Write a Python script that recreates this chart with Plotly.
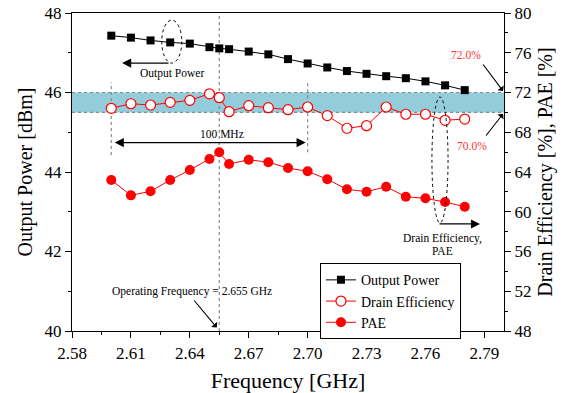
import plotly.graph_objects as go

# Measured performance versus frequency
freq_ghz = [2.60, 2.61, 2.62, 2.63, 2.64, 2.65, 2.655, 2.66, 2.67, 2.68,
            2.69, 2.70, 2.71, 2.72, 2.73, 2.74, 2.75, 2.76, 2.77, 2.78]
output_power_dbm = [47.43, 47.38, 47.31, 47.26, 47.23, 47.14, 47.11, 47.09, 47.03, 46.96,
                    46.84, 46.73, 46.63, 46.54, 46.47, 46.41, 46.36, 46.28, 46.18, 46.06]
drain_eff_pct = [70.41, 70.87, 70.74, 71.01, 71.21, 71.87, 71.48, 70.07, 70.67, 70.47,
                 70.27, 70.54, 69.67, 68.40, 68.66, 70.54, 69.81, 69.81, 69.20, 69.33]
pae_pct = [63.19, 61.65, 62.06, 63.19, 64.20, 65.31, 65.98, 64.80, 65.24, 64.98,
           64.40, 64.07, 63.27, 62.26, 62.02, 62.52, 61.51, 61.35, 60.98, 60.51]

x_ticks = [2.58, 2.61, 2.64, 2.67, 2.70, 2.73, 2.76, 2.79]
band_low, band_high = 70.0, 72.0
op_freq = 2.655

FONT = "Liberation Serif, Times New Roman, serif"
GREY = "#8a8a8a"
NOTE_SIZE = 11.5

fig = go.Figure()

fig.add_trace(go.Scatter(
    x=freq_ghz, y=output_power_dbm, name="Output Power", mode="lines+markers",
    line=dict(color="black", width=1),
    marker=dict(symbol="square", size=8, color="black"),
    yaxis="y"))
fig.add_trace(go.Scatter(
    x=freq_ghz, y=drain_eff_pct, name="Drain Efficiency", mode="lines+markers",
    line=dict(color="#ff0000", width=1),
    marker=dict(symbol="circle", size=10, color="white", line=dict(color="#ff0000", width=1.2)),
    yaxis="y2"))
fig.add_trace(go.Scatter(
    x=freq_ghz, y=pae_pct, name="PAE", mode="lines+markers",
    line=dict(color="#ff0000", width=1),
    marker=dict(symbol="circle", size=10, color="#ff0000"),
    yaxis="y2"))

shapes = [
    # 70-72 % efficiency band
    dict(type="rect", xref="paper", yref="y2", x0=0, x1=1, y0=band_low, y1=band_high,
         fillcolor="#93cddc", line=dict(width=0), layer="below"),
    dict(type="line", xref="paper", yref="y2", x0=0, x1=1, y0=band_high, y1=band_high,
         line=dict(color=GREY, width=1.2, dash="dot"), layer="below"),
    dict(type="line", xref="paper", yref="y2", x0=0, x1=1, y0=band_low, y1=band_low,
         line=dict(color=GREY, width=1.2, dash="dot"), layer="below"),
    # operating frequency marker
    dict(type="line", xref="x", yref="paper", x0=op_freq, x1=op_freq, y0=0, y1=1,
         line=dict(color=GREY, width=1.2, dash="dot"), layer="below"),
    # 100 MHz span guides
    dict(type="line", xref="x", yref="y", x0=2.60, x1=2.60, y0=44.43, y1=46.26,
         line=dict(color=GREY, width=1.2, dash="dot"), layer="below"),
    dict(type="line", xref="x", yref="y", x0=2.70, x1=2.70, y0=44.50, y1=46.26,
         line=dict(color=GREY, width=1.2, dash="dot"), layer="below"),
    # ellipses grouping the curves
    dict(type="circle", xref="x", yref="y", x0=2.6257, x1=2.6359, y0=46.74, y1=47.82,
         line=dict(color="black", width=1, dash="dot")),
    dict(type="circle", xref="x", yref="y2", x0=2.7633, x1=2.7715, y0=58.87, y1=71.55,
         line=dict(color="black", width=1, dash="dot")),
]


def arrow(x, y, ax, ay, yref="y", head=2, size=1.4, width=1.3, **kw):
    return dict(x=x, y=y, ax=ax, ay=ay, xref="x", yref=yref, axref="x", ayref=yref,
                text="", showarrow=True, arrowhead=head, arrowsize=size, arrowwidth=width,
                arrowcolor="black", **kw)


def label(x, y, text, yref="y", color="black"):
    return dict(x=x, y=y, xref="x", yref=yref, text=text, showarrow=False,
                font=dict(family=FONT, size=NOTE_SIZE, color=color))


annotations = [
    arrow(2.6055, 46.74, 2.6299, 46.74),
    label(2.6309, 46.47, "Output Power"),
    arrow(2.699, 44.74, 2.601, 44.74, arrowside="end+start"),
    label(2.6564, 44.95, "100 MHz"),
    arrow(2.7878, 58.77, 2.7664, 58.77, yref="y2"),
    label(2.7689, 57.35, "Drain Efficiency,", yref="y2"),
    label(2.7689, 56.1, "PAE", yref="y2"),
    arrow(2.7995, 72.15, 2.7888, 74.97, yref="y2", head=1, size=1.2, width=1.1),
    label(2.7807, 75.77, "72.0%", yref="y2", color="#ff3333"),
    arrow(2.7995, 69.85, 2.7903, 67.52, yref="y2", head=1, size=1.2, width=1.1),
    label(2.7837, 66.62, "70.0%", yref="y2", color="#ff3333"),
    arrow(2.6537, 40.09, 2.6416, 40.805, head=1, size=1.2, width=1.1),
    label(2.641, 40.99, "Operating Frequency = 2.655 GHz"),
]

axis_common = dict(showline=True, linecolor="black", linewidth=1.3, showgrid=False,
                   zeroline=False, ticks="outside", tickcolor="black", ticklen=6,
                   automargin=False,
                   tickfont=dict(family=FONT, size=17, color="black"))

fig.update_layout(
    width=574, height=393,
    margin=dict(l=72, r=70, t=13, b=62),
    paper_bgcolor="white", plot_bgcolor="white",
    font=dict(family=FONT, color="black"),
    xaxis=dict(**axis_common, range=[2.58, 2.80], tickvals=x_ticks,
               ticktext=[f"{v:.2f}" for v in x_ticks], mirror=True,
               minor=dict(ticks="outside", ticklen=3, dtick=0.015, tick0=2.58, tickcolor="black"),
               title=dict(text="Frequency [GHz]", font=dict(family=FONT, size=22), standoff=12)),
    yaxis=dict(**axis_common, range=[40, 48], dtick=2, tick0=40,
               minor=dict(ticks="outside", ticklen=3, dtick=1, tickcolor="black"),
               title=dict(text="Output Power [dBm]", font=dict(family=FONT, size=20), standoff=6)),
    yaxis2=dict(**axis_common, range=[48, 80], dtick=4, tick0=48, overlaying="y", side="right",
                minor=dict(ticks="outside", ticklen=3, dtick=2, tickcolor="black"),
                title=dict(text="Drain Efficiency [%], PAE [%]", font=dict(family=FONT, size=20),
                           standoff=6)),
    legend=dict(x=0.574, y=0.213, xanchor="left", yanchor="top",
                bgcolor="white", bordercolor="black", borderwidth=1,
                font=dict(family=FONT, size=14, color="black"),
                tracegroupgap=0, itemwidth=30),
    shapes=shapes,
    annotations=annotations,
)

fig.write_html("out.html")
